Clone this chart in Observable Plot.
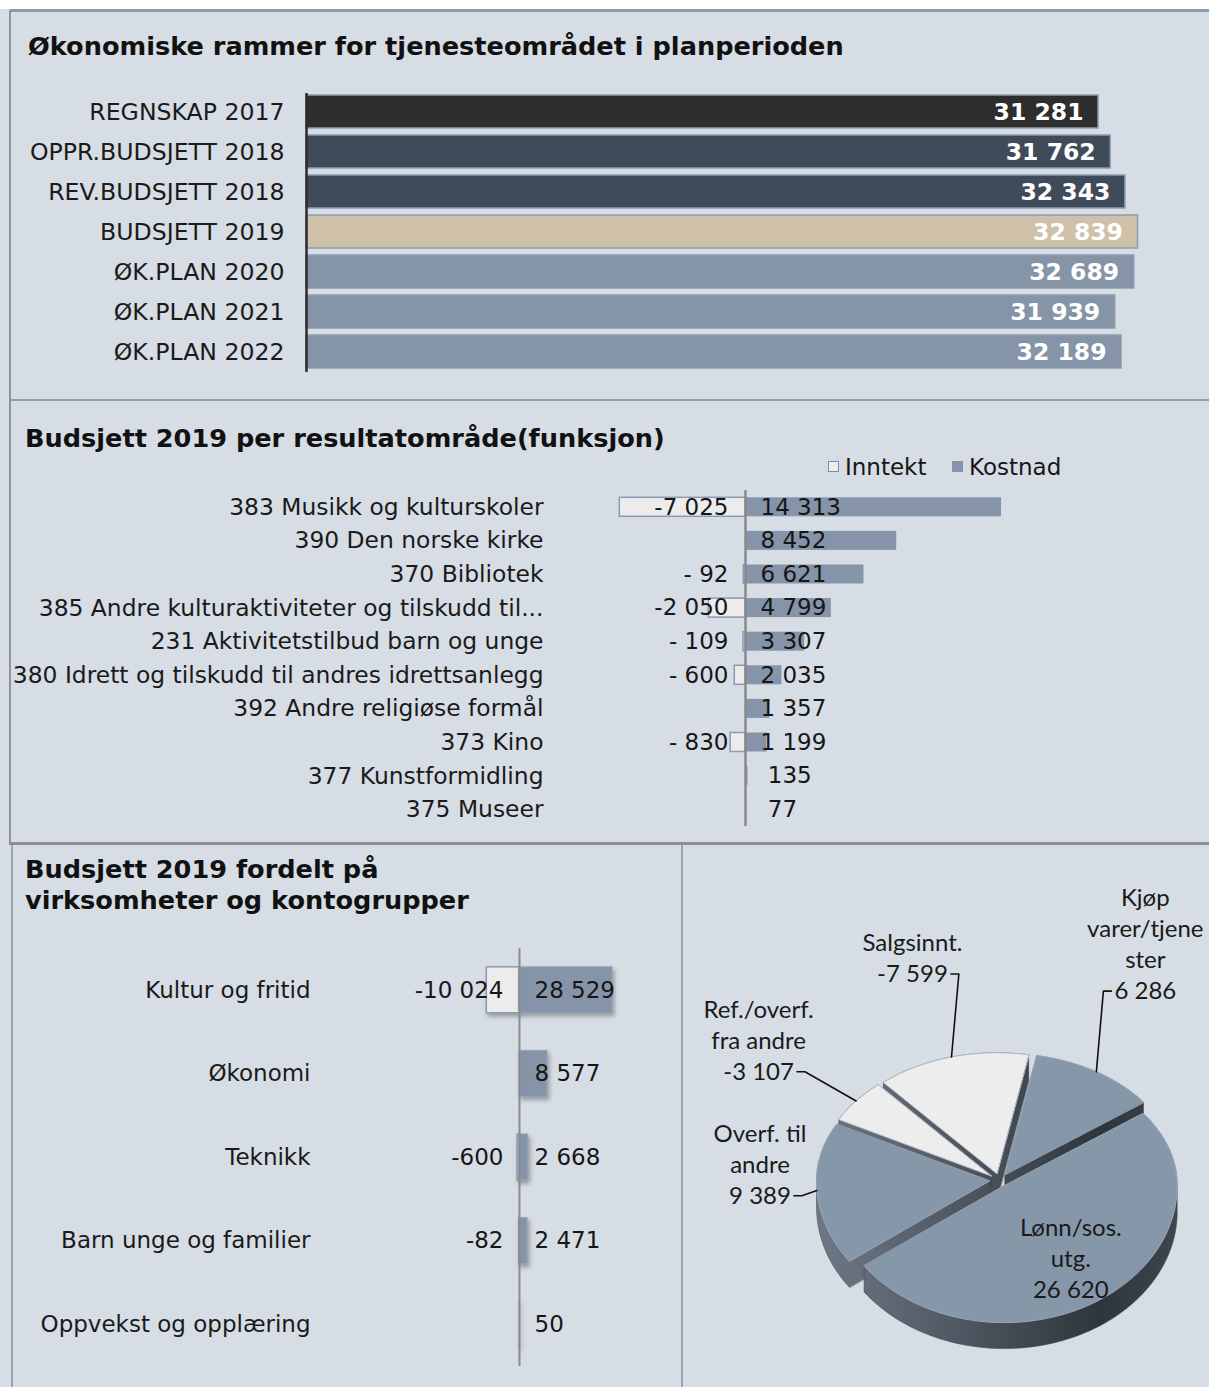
<!DOCTYPE html>
<html>
<head>
<meta charset="utf-8">
<script src="https://cdn.jsdelivr.net/npm/d3@7"></script>
<script src="https://cdn.jsdelivr.net/npm/@observablehq/plot@0.6"></script>
<style>
html,body{margin:0;padding:0;background:#fff;}
#root{position:relative;width:1209px;height:1387px;background:#d6dde4;overflow:hidden;font-family:"DejaVu Sans",sans-serif;color:#161616;}
.abs{position:absolute;}
.title{position:absolute;font-weight:bold;font-size:25.6px;line-height:31px;white-space:nowrap;color:#111;}
.bl g[aria-label="bar"]{filter:drop-shadow(2px 3px 2px rgba(30,30,30,0.35));}
.leg{position:absolute;font-size:23px;line-height:28px;white-space:nowrap;}
.sw{position:absolute;width:11px;height:11px;box-sizing:border-box;}
</style>
</head>
<body>
<div id="root">
  <div class="abs" style="left:0;top:0;width:1209px;height:9px;background:#fff"></div>
  <div class="abs" style="left:10px;top:9px;width:1199px;height:2.5px;background:#8d9bb0"></div>
  <div class="abs" style="left:9px;top:10px;width:2px;height:835px;background:#8f9296"></div>
  <div class="abs" style="left:10px;top:399px;width:1199px;height:2px;background:#8fa0b5"></div>
  <div class="abs" style="left:9px;top:842px;width:1200px;height:2.5px;background:#8c8e91"></div>
  <div class="abs" style="left:11px;top:845px;width:2px;height:542px;background:#95a4b8"></div>
  <div class="abs" style="left:681px;top:845px;width:2px;height:542px;background:#95a4b8"></div>

  <div class="title" style="left:28px;top:31px">Økonomiske rammer for tjenesteområdet i planperioden</div>
  <div class="title" style="left:25px;top:423px">Budsjett 2019 per resultatområde(funksjon)</div>
  <div class="title" style="left:25px;top:854px">Budsjett 2019 fordelt på<br>virksomheter og kontogrupper</div>

  <div class="sw" style="left:828px;top:461px;background:#ededed;border:1.5px solid #7d8ea5"></div>
  <div class="leg" style="left:845px;top:453px">Inntekt</div>
  <div class="sw" style="left:952px;top:461px;background:#8594a8"></div>
  <div class="leg" style="left:969px;top:453px">Kostnad</div>
</div>
<script>
// ---------- DATA ----------
const topCategories = ["REGNSKAP 2017","OPPR.BUDSJETT 2018","REV.BUDSJETT 2018","BUDSJETT 2019","ØK.PLAN 2020","ØK.PLAN 2021","ØK.PLAN 2022"];
const topValues = [31281, 31762, 32343, 32839, 32689, 31939, 32189];

const funcNames = ["383 Musikk og kulturskoler","390 Den norske kirke","370 Bibliotek","385 Andre kulturaktiviteter og tilskudd til...","231 Aktivitetstilbud barn og unge","380 Idrett og tilskudd til andres idrettsanlegg","392 Andre religiøse formål","373 Kino","377 Kunstformidling","375 Museer"];
const funcInntekt = [-7025, 0, -92, -2050, -109, -600, 0, -830, 0, 0];
const funcKostnad = [14313, 8452, 6621, 4799, 3307, 2035, 1357, 1199, 135, 77];

const unitNames = ["Kultur og fritid","Økonomi","Teknikk","Barn unge og familier","Oppvekst og opplæring"];
const unitInntekt = [-10024, 0, -600, -82, 0];
const unitKostnad = [28529, 8577, 2668, 2471, 50];

const accountGroups = ["Lønn/sos.\nutg.","Overf. til\nandre","Ref./overf.\nfra andre","Salgsinnt.","Kjøp\nvarer/tjene\nster"];
const accountValues = [26620, 9389, -3107, -7599, 6286];

// ---------- STYLE / LAYOUT ----------
const root = document.getElementById("root");
const fmtInt = d3.formatLocale({decimal:",", thousands:"\u00a0", grouping:[3], currency:["",""], minus:"-"}).format(",d");
const baseStyle = {background:"transparent", fontFamily:"DejaVu Sans", fontSize:"23px", color:"#161616", overflow:"visible"};
const topColors = ["#2e2e2e","#404b59","#404b59","#cfc0aa","#8594a7","#8594a7","#8594a7"];
const kostColor = "#8594a8", inntColor = "#ececec", inntStroke = "#8a9bb2";

function place(el, left, top, width, cls) {
  const d = document.createElement("div");
  d.className = "abs" + (cls ? " " + cls : "");
  d.style.left = left + "px"; d.style.top = top + "px"; d.style.width = width + "px";
  d.appendChild(el); root.appendChild(d);
  return el;
}

// ---------- TOP CHART ----------
{
  const data = topCategories.map((cat, i) => ({cat, value: topValues[i]}));
  const k = 0.02532; // px per unit
  const svg = Plot.plot({
    width: 1209, height: 300,
    marginLeft: 287, marginTop: 8, marginBottom: 13, marginRight: 0,
    style: baseStyle,
    x: {domain: [0, 34000], range: [306, 306 + 34000 * k], axis: null},
    y: {domain: topCategories, range: [7, 287], padding: 0, round: false, label: null},
    color: {domain: topCategories, range: topColors},
    marks: [
      Plot.barX(data, {x1: d => 0, x2: "value", y: "cat", fill: "cat", stroke: "#8d9cb1", strokeWidth: 1.5, insetTop: 3, insetBottom: 4}),
      Plot.ruleX([0], {stroke: "#2b2b2b", strokeWidth: 2.5}),
      Plot.text(data, {x: "value", y: "cat", text: d => fmtInt(d.value), textAnchor: "end", dx: -15, fill: "#ffffff", fontWeight: "bold", fontSize: 23.5}),
      Plot.axisY({tickSize: 0, tickPadding: 3, fontSize: 23.6, fill: "#1a1a1a"})
    ]
  });
  place(svg, 0, 85, 1209);
}

// ---------- MIDDLE CHART ----------
{
  const data = funcNames.map((name, i) => ({name, inntekt: funcInntekt[i], kostnad: funcKostnad[i]}));
  const neg = data.filter(d => d.inntekt < 0);
  const k = 0.01789;
  const fmtNeg = v => Math.abs(v) < 1000 ? "-\u00a0" + fmtInt(-v) : fmtInt(v);
  const fmtPos = v => v < 1000 ? "\u00a0" + fmtInt(v) : fmtInt(v);
  const svg = Plot.plot({
    width: 1209, height: 345,
    marginLeft: 546, marginTop: 5, marginBottom: 4, marginRight: 0,
    style: baseStyle,
    x: {domain: [-10000, 16000], range: [745 - 10000 * k, 745 + 16000 * k], axis: null},
    y: {domain: funcNames, range: [5, 341], padding: 0, round: false, label: null},
    marks: [
      Plot.barX(neg, {x1: d => 0, x2: "inntekt", y: "name", fill: inntColor, stroke: inntStroke, strokeWidth: 1.5, insetTop: 7.3, insetBottom: 7.3}),
      Plot.barX(data, {x1: d => 0, x2: "kostnad", y: "name", fill: kostColor, insetTop: 7.3, insetBottom: 7.3}),
      Plot.ruleX([0], {stroke: "#8a8a8a", strokeWidth: 2.5}),
      Plot.text(neg, {x: d => 0, y: "name", text: d => fmtNeg(d.inntekt), textAnchor: "end", dx: -17, fontSize: 23}),
      Plot.text(data, {x: d => 0, y: "name", text: d => fmtPos(d.kostnad), textAnchor: "start", dx: 15, fontSize: 23}),
      Plot.axisY({tickSize: 0, tickPadding: 3, fontSize: 23.4, fill: "#1a1a1a"})
    ]
  });
  place(svg, 0, 485, 1209);
}

// ---------- BOTTOM-LEFT CHART ----------
{
  const data = unitNames.map((name, i) => ({name, inntekt: unitInntekt[i], kostnad: unitKostnad[i]}));
  const neg = data.filter(d => d.inntekt < 0);
  const k = 0.00326;
  const svg = Plot.plot({
    width: 681, height: 440,
    marginLeft: 313, marginTop: 8, marginBottom: 14, marginRight: 0,
    className: "bl",
    style: baseStyle,
    x: {domain: [-40000, 40000], range: [519 - 40000 * k, 519 + 40000 * k], axis: null},
    y: {domain: unitNames, range: [8, 426], padding: 0, round: false, label: null},
    marks: [
      Plot.barX(neg, {x1: d => 0, x2: "inntekt", y: "name", fill: inntColor, stroke: inntStroke, strokeWidth: 1.5, insetTop: 18.8, insetBottom: 18.8}),
      Plot.barX(data, {x1: d => 0, x2: "kostnad", y: "name", fill: kostColor, stroke: "#97a5b8", strokeWidth: 1, insetTop: 18.8, insetBottom: 18.8}),
      Plot.ruleX([0], {stroke: "#8a8a8a", strokeWidth: 2}),
      Plot.text(neg, {x: d => 0, y: "name", text: d => fmtInt(d.inntekt), textAnchor: "end", dx: -16, fontSize: 23}),
      Plot.text(data, {x: d => 0, y: "name", text: d => fmtInt(d.kostnad), textAnchor: "start", dx: 15, fontSize: 23}),
      Plot.axisY({tickSize: 0, tickPadding: 3, fontSize: 23, fill: "#1a1a1a"})
    ]
  });
  place(svg, 0, 940, 681);
}

// ---------- PIE (3D exploded) ----------
{
  const W = 527, H = 542;
  const cx = 317, cy = 335, rx = 173, ryBack = 121, ryFront = 137, depth = 26;
  const firstSliceAngle = 53.3 * Math.PI / 180;
  const explode = [8, 10, 10, 10, 10];
  const labelDist = [0.65, 1.33, 1.72, 1.86, 2.2];
  const labelShiftY = [0, -31, -8, 0, -6];
  const labelFont = "Lato", labelSize = 24, lineH = 1.29;

  const pieData = accountGroups.map((name, i) => ({name, value: accountValues[i]}));
  const arcs = d3.pie().value(d => Math.abs(d.value)).sort(null)
    .startAngle(firstSliceAngle).endAngle(firstSliceAngle + 2 * Math.PI)(pieData);

  const ryAt = a => Math.cos(a) > 0 ? ryBack : ryFront;
  const pt = (ox, oy, a, f) => [ox + f * rx * Math.sin(a), oy - f * ryAt(a) * Math.cos(a)];

  const ctx = document.createElement("canvas").getContext("2d");
  ctx.font = `${labelSize}px ${labelFont}`;

  const slices = arcs.map((a, i) => {
    const mid = (a.startAngle + a.endAngle) / 2;
    const [ox, oy] = pt(cx, cy, mid, explode[i] / rx);
    const face = [[ox, oy]];
    const N = Math.max(8, Math.ceil((a.endAngle - a.startAngle) / 0.03));
    for (let j = 0; j <= N; j++) {
      const t = a.startAngle + (a.endAngle - a.startAngle) * j / N;
      face.push(pt(ox, oy, t, 1));
    }
    const rim = d3.polygonHull(face.concat(face.map(p => [p[0], p[1] + depth])));
    return {i, mid, ox, oy, face, rim, neg: a.data.value < 0, d: a.data};
  });

  const order = slices.slice().sort((a, b) => Math.cos(b.mid) - Math.cos(a.mid));
  const toXY = (pts, id) => pts.map(p => ({x: p[0], y: p[1], id}));

  const marks = [];
  for (const s of order) {
    marks.push(Plot.line(toXY(s.rim, s.i), {x: "x", y: "y", fill: "url(#rimGrad)", stroke: "#3a4048", strokeWidth: 0.5, curve: "linear-closed"}));
    marks.push(Plot.line(toXY(s.face, s.i), {x: "x", y: "y", fill: s.neg ? "#ededed" : "#8797aa", stroke: s.neg ? "#b7bec6" : "#9aa7b8", strokeWidth: 1, curve: "linear-closed"}));
  }

  // labels + leader lines
  const labels = [], leaders = [];
  slices.forEach(s => {
    const text = s.d.name + "\n" + fmtInt(s.d.value);
    const lines = text.split("\n");
    const widths = lines.map(l => ctx.measureText(l).width);
    const maxW = Math.max(...widths);
    let [lx, ly] = pt(s.ox, s.oy, s.mid, labelDist[s.i]);
    ly += labelShiftY[s.i];
    lx = Math.min(lx, W - maxW / 2 - 6);
    lx = Math.max(lx, maxW / 2 + 6);
    labels.push({x: lx, y: ly, text});
    if (labelDist[s.i] > 1) {
      const E = pt(s.ox, s.oy, s.mid, 1);
      const lastY = ly + (lines.length - 1) / 2 * labelSize * lineH + 2;
      const lastW = widths[widths.length - 1];
      const side = E[0] > lx ? 1 : -1;
      const A = [lx + side * (lastW / 2 + 3), lastY];
      const B = [A[0] + side * 8, lastY];
      leaders.push(...toXY([A, B, E], s.i));
    }
  });
  marks.push(Plot.line(leaders, {x: "x", y: "y", z: "id", stroke: "#111", strokeWidth: 1.6}));
  marks.push(Plot.text(labels, {x: "x", y: "y", text: "text", textAnchor: "middle", lineAnchor: "middle", lineHeight: lineH, fontFamily: labelFont, fontSize: labelSize, fill: "#1a1a1a"}));

  const svg = Plot.plot({
    width: W, height: H, margin: 0,
    style: baseStyle,
    x: {type: "linear", domain: [0, W], range: [0, W], axis: null},
    y: {type: "linear", domain: [0, H], range: [0, H], axis: null},
    marks
  });
  const defs = d3.select(svg).insert("defs", ":first-child");
  const g = defs.append("linearGradient").attr("id", "rimGrad")
    .attr("gradientUnits", "userSpaceOnUse")
    .attr("x1", cx - rx - 15).attr("y1", 0).attr("x2", cx + rx + 10).attr("y2", 0);
  [[0, "#6f7985"], [0.4, "#4f5762"], [0.78, "#2f353c"], [1, "#3f464e"]].forEach(([o, c]) =>
    g.append("stop").attr("offset", o).attr("stop-color", c));
  place(svg, 682, 845, W);
}
</script>
</body>
</html>
